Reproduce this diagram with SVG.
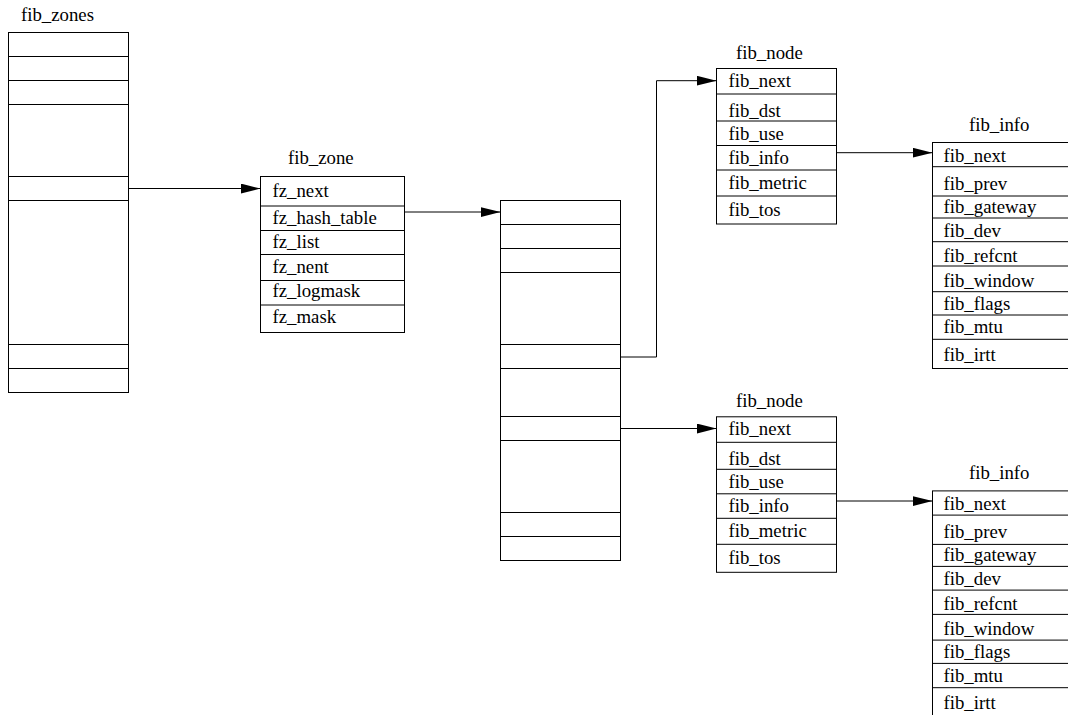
<svg xmlns="http://www.w3.org/2000/svg" width="1068" height="715" viewBox="0 0 1068 715">
<defs>
<style>
.b{fill:#fff;stroke:#000;stroke-width:1}
.d{stroke:#000;stroke-width:1}
text{font-family:"Liberation Serif","Times New Roman",serif;font-size:18.8px;fill:#000}
.c{fill:none;stroke:#000;stroke-width:1}
</style>
<marker id="ah" markerUnits="userSpaceOnUse" markerWidth="21" markerHeight="11" refX="20" refY="5" orient="auto">
<path d="M0,0 L20,5 L0,10 z" fill="#000"/>
</marker>
</defs>
<rect x="0" y="0" width="1068" height="715" fill="#fff"/>

<g id="fib_zones">
<text x="21" y="20.5">fib_zones</text>
<rect class="b" x="8.5" y="32.5" width="120" height="360"/>
<line class="d" x1="8.5" y1="56.5" x2="128.5" y2="56.5"/>
<line class="d" x1="8.5" y1="80.5" x2="128.5" y2="80.5"/>
<line class="d" x1="8.5" y1="104.5" x2="128.5" y2="104.5"/>
<line class="d" x1="8.5" y1="176.5" x2="128.5" y2="176.5"/>
<line class="d" x1="8.5" y1="200.5" x2="128.5" y2="200.5"/>
<line class="d" x1="8.5" y1="344.5" x2="128.5" y2="344.5"/>
<line class="d" x1="8.5" y1="368.5" x2="128.5" y2="368.5"/>
</g>

<g id="fib_zone">
<text x="288" y="163.5">fib_zone</text>
<rect class="b" x="260.5" y="176.5" width="144" height="156"/>
<line class="d" x1="260.5" y1="206" x2="404.5" y2="206"/>
<line class="d" x1="260.5" y1="230.5" x2="404.5" y2="230.5"/>
<line class="d" x1="260.5" y1="254.5" x2="404.5" y2="254.5"/>
<line class="d" x1="260.5" y1="280.5" x2="404.5" y2="280.5"/>
<line class="d" x1="260.5" y1="305" x2="404.5" y2="305"/>
<text x="272.5" y="196.5">fz_next</text>
<text x="272.5" y="224">fz_hash_table</text>
<text x="272.5" y="248.3">fz_list</text>
<text x="272.5" y="272.7">fz_nent</text>
<text x="272.5" y="296.7">fz_logmask</text>
<text x="272.5" y="322.7">fz_mask</text>
</g>

<g id="fz_hash_table">
<rect class="b" x="500.5" y="200.5" width="120" height="360"/>
<line class="d" x1="500.5" y1="224.5" x2="620.5" y2="224.5"/>
<line class="d" x1="500.5" y1="248.5" x2="620.5" y2="248.5"/>
<line class="d" x1="500.5" y1="272.5" x2="620.5" y2="272.5"/>
<line class="d" x1="500.5" y1="344.5" x2="620.5" y2="344.5"/>
<line class="d" x1="500.5" y1="368.5" x2="620.5" y2="368.5"/>
<line class="d" x1="500.5" y1="416.5" x2="620.5" y2="416.5"/>
<line class="d" x1="500.5" y1="440.5" x2="620.5" y2="440.5"/>
<line class="d" x1="500.5" y1="512.5" x2="620.5" y2="512.5"/>
<line class="d" x1="500.5" y1="536.5" x2="620.5" y2="536.5"/>
</g>

<g id="fib_node_1">
<text x="736" y="59">fib_node</text>
<rect class="b" x="716.5" y="68.5" width="120" height="155.5"/>
<line class="d" x1="716.5" y1="94" x2="836.5" y2="94"/>
<line class="d" x1="716.5" y1="121" x2="836.5" y2="121"/>
<line class="d" x1="716.5" y1="145.5" x2="836.5" y2="145.5"/>
<line class="d" x1="716.5" y1="170" x2="836.5" y2="170"/>
<line class="d" x1="716.5" y1="196" x2="836.5" y2="196"/>
<text x="728.5" y="86.7">fib_next</text>
<text x="728.5" y="116.7">fib_dst</text>
<text x="728.5" y="140">fib_use</text>
<text x="728.5" y="164">fib_info</text>
<text x="728.5" y="189">fib_metric</text>
<text x="728.5" y="215.5">fib_tos</text>
</g>

<g id="fib_node_2">
<text x="736" y="407.3">fib_node</text>
<rect class="b" x="716.5" y="416.8" width="120" height="155.5"/>
<line class="d" x1="716.5" y1="442.3" x2="836.5" y2="442.3"/>
<line class="d" x1="716.5" y1="469.3" x2="836.5" y2="469.3"/>
<line class="d" x1="716.5" y1="493.8" x2="836.5" y2="493.8"/>
<line class="d" x1="716.5" y1="518.3" x2="836.5" y2="518.3"/>
<line class="d" x1="716.5" y1="544.3" x2="836.5" y2="544.3"/>
<text x="728.5" y="435">fib_next</text>
<text x="728.5" y="465">fib_dst</text>
<text x="728.5" y="488.3">fib_use</text>
<text x="728.5" y="512.3">fib_info</text>
<text x="728.5" y="537.3">fib_metric</text>
<text x="728.5" y="563.8">fib_tos</text>
</g>

<g id="fib_info_1">
<text x="969" y="131">fib_info</text>
<rect class="b" x="932.5" y="142.5" width="145" height="226"/>
<line class="d" x1="932.5" y1="166.7" x2="1077.5" y2="166.7"/>
<line class="d" x1="932.5" y1="196" x2="1077.5" y2="196"/>
<line class="d" x1="932.5" y1="218" x2="1077.5" y2="218"/>
<line class="d" x1="932.5" y1="241.7" x2="1077.5" y2="241.7"/>
<line class="d" x1="932.5" y1="266" x2="1077.5" y2="266"/>
<line class="d" x1="932.5" y1="291.7" x2="1077.5" y2="291.7"/>
<line class="d" x1="932.5" y1="315" x2="1077.5" y2="315"/>
<line class="d" x1="932.5" y1="339.3" x2="1077.5" y2="339.3"/>
<text x="943.5" y="161.7">fib_next</text>
<text x="943.5" y="190">fib_prev</text>
<text x="943.5" y="212.7">fib_gateway</text>
<text x="943.5" y="236.7">fib_dev</text>
<text x="943.5" y="261.7">fib_refcnt</text>
<text x="943.5" y="286.7">fib_window</text>
<text x="943.5" y="310">fib_flags</text>
<text x="943.5" y="333.3">fib_mtu</text>
<text x="943.5" y="360.7">fib_irtt</text>
</g>

<g id="fib_info_2">
<text x="969" y="479.4">fib_info</text>
<rect class="b" x="932.5" y="490.9" width="145" height="226"/>
<line class="d" x1="932.5" y1="515.1" x2="1077.5" y2="515.1"/>
<line class="d" x1="932.5" y1="544.4" x2="1077.5" y2="544.4"/>
<line class="d" x1="932.5" y1="566.4" x2="1077.5" y2="566.4"/>
<line class="d" x1="932.5" y1="590.1" x2="1077.5" y2="590.1"/>
<line class="d" x1="932.5" y1="614.4" x2="1077.5" y2="614.4"/>
<line class="d" x1="932.5" y1="640.1" x2="1077.5" y2="640.1"/>
<line class="d" x1="932.5" y1="663.4" x2="1077.5" y2="663.4"/>
<line class="d" x1="932.5" y1="687.7" x2="1077.5" y2="687.7"/>
<text x="943.5" y="510.1">fib_next</text>
<text x="943.5" y="538.4">fib_prev</text>
<text x="943.5" y="561.1">fib_gateway</text>
<text x="943.5" y="585.1">fib_dev</text>
<text x="943.5" y="610.1">fib_refcnt</text>
<text x="943.5" y="635.1">fib_window</text>
<text x="943.5" y="658.4">fib_flags</text>
<text x="943.5" y="681.7">fib_mtu</text>
<text x="943.5" y="709.1">fib_irtt</text>
</g>

<g id="connectors">
<path class="c" d="M128.5,188.5 H260.5" marker-end="url(#ah)"/>
<path class="c" d="M404.5,212 H500.5" marker-end="url(#ah)"/>
<path class="c" d="M620.5,357 H656.5 V80.7 H716.5" marker-end="url(#ah)"/>
<path class="c" d="M620.5,428.5 H716.5" marker-end="url(#ah)"/>
<path class="c" d="M836.5,152.7 H932.5" marker-end="url(#ah)"/>
<path class="c" d="M836.5,501 H932.5" marker-end="url(#ah)"/>
</g>
</svg>
